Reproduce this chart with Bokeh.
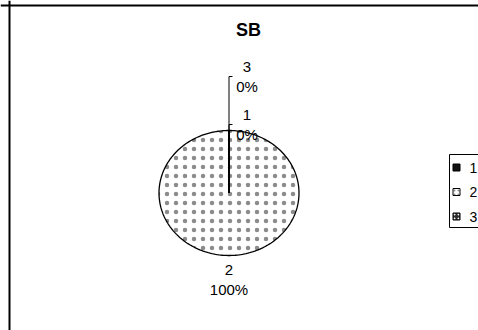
import numpy as np
from bokeh.plotting import figure
from bokeh.models import Range1d, Span
from bokeh.core.properties import value
from bokeh.embed import file_html
from bokeh.resources import INLINE

# ---- data ----
chart_title = "SB"
categories = ["1", "2", "3"]
values = [0, 100, 0]
legend_labels = ["1", "2", "3"]

# ---- styles ----
fills = ["#111111", "#ffffff", "#2a2a2a"]
hatch_patterns = ["blank", "dot", "dot"]
hatch_colors = ["#000000", "#8c8c8c", "#ffffff"]
FONT = value("Liberation Sans")

W, H = 478, 330
p = figure(width=W, height=H, x_range=Range1d(0, W), y_range=Range1d(H, 0),
           output_backend="svg", toolbar_location=None, min_border=0,
           x_axis_type=None, y_axis_type=None)
p.grid.visible = False
p.outline_line_color = None
p.background_fill_color = "white"

# chart border (left/top visible)
p.add_layout(Span(location=9, dimension="height", line_color="black", line_width=2))
p.add_layout(Span(location=5, dimension="width", line_color="black", line_width=2))

# title
p.text(x=[248], y=[29], text=[chart_title], text_font=FONT, text_font_size=value("18px"),
       text_font_style="bold", text_align="center", text_baseline="middle", text_color="black")

# ---- pie (elliptical, start at top, clockwise) ----
cx, cy, rx, ry = 228.5, 192.5, 70, 62.5
total = float(sum(values))
cum = np.concatenate([[0.0], np.cumsum(values)]) / total
xs, ys = [], []
mids = []
for i in range(len(values)):
    a0 = np.pi / 2 - 2 * np.pi * cum[i]
    a1 = np.pi / 2 - 2 * np.pi * cum[i + 1]
    n = max(2, int(abs(a1 - a0) / (2 * np.pi) * 240) + 2)
    t = np.linspace(a0, a1, n)
    xs.append([cx] + list(cx + rx * np.cos(t)) + [cx])
    ys.append([cy] + list(cy - ry * np.sin(t)) + [cy])
    mids.append((a0 + a1) / 2)

p.patches(xs=xs, ys=ys, fill_color=fills, line_color="black", line_width=1.3,
          hatch_pattern=hatch_patterns, hatch_color=hatch_colors, hatch_scale=9, hatch_weight=0.5)
# emphasise the common radial edge of the zero-size slices
p.multi_line(xs=[x[:2] for x, v in zip(xs, values) if v == 0],
             ys=[y[:2] for y, v in zip(ys, values) if v == 0],
             line_color="black", line_width=2)

# ---- data labels ----
pct = [f"{round(v / total * 100)}%" for v in values]
top_count = 0
lab_x, lab_y1, lab_y2 = [], [], []
lead_xs, lead_ys = [], []
for i, m in enumerate(mids):
    ex = cx + rx * np.cos(m)
    ey = cy - ry * np.sin(m)
    if np.sin(m) < 0:
        lx, ly = ex, ey + 24
    else:
        lx = ex + 18
        ly = ey - 6 - 48 * top_count
        top_count += 1
        lead_xs.append([ex, ex, ex + 3.5])
        lead_ys.append([ey, ly, ly])
    lab_x.append(lx)
    lab_y1.append(ly - 10)
    lab_y2.append(ly + 10)

p.multi_line(xs=lead_xs, ys=lead_ys, line_color="black", line_width=1)
p.text(x=lab_x, y=lab_y1, text=categories, text_font=FONT, text_font_size=value("15px"),
       text_align="center", text_baseline="middle", text_color="black")
p.text(x=lab_x, y=lab_y2, text=pct, text_font=FONT, text_font_size=value("15px"),
       text_align="center", text_baseline="middle", text_color="black")

# ---- legend ----
p.quad(left=[449], right=[490], top=[154], bottom=[227], fill_color="white",
       line_color="black", line_width=1)
ly_leg = [167 + 24.5 * i for i in range(len(legend_labels))]
p.rect(x=[456] * len(legend_labels), y=ly_leg, width=7, height=7, fill_color=fills,
       line_color="black", line_width=1, hatch_pattern=hatch_patterns,
       hatch_color=hatch_colors, hatch_scale=4, hatch_weight=0.8)
p.text(x=[469] * len(legend_labels), y=ly_leg, text=legend_labels, text_font=FONT,
       text_font_size=value("14px"), text_align="left", text_baseline="middle",
       text_color="black")

open("out.html", "w").write(file_html(p, INLINE))
